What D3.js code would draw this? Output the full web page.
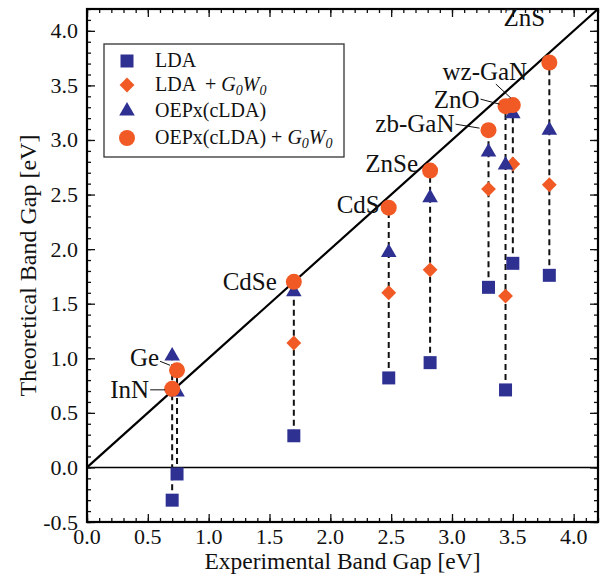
<!DOCTYPE html>
<html>
<head>
<meta charset="utf-8">
<script src="https://cdn.jsdelivr.net/npm/d3@7"></script>
<style>
  body { margin: 0; background: #fff; }
  text { font-family: "Liberation Serif", "Times New Roman", serif; fill: #111; }
</style>
</head>
<body>
<div id="chart"></div>
<script>
// materials and experimental gaps (eV)
const materials = ["InN", "Ge", "CdSe", "CdS", "ZnSe", "zb-GaN", "ZnO", "wz-GaN", "ZnS"];
const expGap    = [0.70, 0.74, 1.70, 2.48, 2.82, 3.30, 3.44, 3.50, 3.80];
// theoretical gaps
const lda       = [-0.30, -0.06, 0.29, 0.82, 0.96, 1.65, 0.71, 1.87, 1.76];
const ldaGW     = [null, null, 1.14, 1.60, 1.81, 2.55, 1.57, 2.78, 2.59];
const oepx      = [1.02, 0.69, 1.61, 1.97, 2.47, 2.89, 2.77, 3.24, 3.09];
const oepxGW    = [0.72, 0.89, 1.70, 2.38, 2.72, 3.09, 3.31, 3.32, 3.71];

const xTicks = [0.0, 0.5, 1.0, 1.5, 2.0, 2.5, 3.0, 3.5, 4.0];
const yTicks = [-0.5, 0.0, 0.5, 1.0, 1.5, 2.0, 2.5, 3.0, 3.5, 4.0];

const blue = "#2e3192", orange = "#f15a24";

const width = 601, height = 576;
const margin = { top: 9, right: 3, bottom: 54, left: 87 };

const svg = d3.select("#chart").append("svg")
    .attr("width", width)
    .attr("height", height);

const x = d3.scaleLinear().domain([0, 4.2]).range([margin.left, width - margin.right]);
const y = d3.scaleLinear().domain([-0.5, 4.2]).range([height - margin.bottom, margin.top]);

const data = materials.map((m, i) => ({
    name: m, x: expGap[i], lda: lda[i], ldaGW: ldaGW[i], oepx: oepx[i], oepxGW: oepxGW[i]
}));

// reference lines
svg.append("line")
    .attr("x1", x(0)).attr("x2", x(4.2))
    .attr("y1", y(0)).attr("y2", y(0))
    .attr("stroke", "#000").attr("stroke-width", 1.5);
svg.append("line")
    .attr("x1", x(0)).attr("y1", y(0))
    .attr("x2", x(4.2)).attr("y2", y(4.2))
    .attr("stroke", "#000").attr("stroke-width", 2.2);

// dashed connectors
const vals = d => [d.lda, d.ldaGW, d.oepx, d.oepxGW].filter(v => v != null);
svg.append("g").selectAll("line")
    .data(data)
    .join("line")
    .attr("x1", d => x(d.x)).attr("x2", d => x(d.x))
    .attr("y1", d => y(d3.min(vals(d))))
    .attr("y2", d => y(d3.max(vals(d))))
    .attr("stroke", "#111").attr("stroke-width", 2)
    .attr("stroke-dasharray", "6,4");

// ticks on all four sides, pointing inward
function tickAxes(axis, scale, major) {
    const minor = d3.range(Math.ceil(scale.domain()[0] * 10), Math.floor(scale.domain()[1] * 10) + 1).map(v => v / 10);
    return [
        axis(scale).tickValues(minor).tickSize(-4).tickFormat(""),
        axis(scale).tickValues(major).tickSize(-8).tickFormat("")
    ];
}

const frame = svg.append("g");
tickAxes(d3.axisBottom, x, xTicks).forEach(a =>
    frame.append("g").attr("transform", `translate(0,${y(-0.5)})`).call(a));
tickAxes(d3.axisTop, x, xTicks).forEach(a =>
    frame.append("g").attr("transform", `translate(0,${y(4.2)})`).call(a));
tickAxes(d3.axisLeft, y, yTicks).forEach(a =>
    frame.append("g").attr("transform", `translate(${x(0)},0)`).call(a));
tickAxes(d3.axisRight, y, yTicks).forEach(a =>
    frame.append("g").attr("transform", `translate(${x(4.2)},0)`).call(a));
frame.selectAll(".domain").remove();
frame.selectAll(".tick line").attr("stroke", "#111").attr("stroke-width", 1.3);

svg.append("rect")
    .attr("x", x(0)).attr("y", y(4.2))
    .attr("width", x(4.2) - x(0)).attr("height", y(-0.5) - y(4.2))
    .attr("fill", "none").attr("stroke", "#000").attr("stroke-width", 2.2);

// tick labels
svg.append("g").selectAll("text")
    .data(xTicks)
    .join("text")
    .attr("x", d => x(d))
    .attr("y", y(-0.5) + 22)
    .attr("text-anchor", "middle")
    .attr("font-size", 22)
    .text(d => d.toFixed(1));
svg.append("g").selectAll("text")
    .data(yTicks)
    .join("text")
    .attr("x", x(0) - 9)
    .attr("y", d => y(d) + 7.5)
    .attr("text-anchor", "end")
    .attr("font-size", 22)
    .text(d => d.toFixed(1));

// axis titles
svg.append("text")
    .attr("x", (x(0) + x(4.2)) / 2)
    .attr("y", 569)
    .attr("text-anchor", "middle")
    .attr("font-size", 23.5)
    .text("Experimental Band Gap [eV]");
svg.append("text")
    .attr("transform", `translate(36,${(y(-0.5) + y(4.2)) / 2}) rotate(-90)`)
    .attr("text-anchor", "middle")
    .attr("font-size", 24)
    .text("Theoretical Band Gap [eV]");

// markers
const sq = d3.symbol().type(d3.symbolSquare).size(169);
const dia = d3.symbol().type(d3.symbolSquare).size(110);
const tri = d3.symbol().type(d3.symbolTriangle).size(105);

const marks = svg.append("g");
marks.selectAll(".lda").data(data).join("path")
    .attr("transform", d => `translate(${x(d.x)},${y(d.lda)})`)
    .attr("d", sq).attr("fill", blue);
marks.selectAll(".ldagw").data(data.filter(d => d.ldaGW != null)).join("path")
    .attr("transform", d => `translate(${x(d.x)},${y(d.ldaGW)}) rotate(45)`)
    .attr("d", dia).attr("fill", orange);
marks.selectAll(".oepx").data(data).join("path")
    .attr("transform", d => `translate(${x(d.x)},${y(d.oepx)})`)
    .attr("d", tri).attr("fill", blue);
marks.selectAll(".oepxgw").data(data).join("circle")
    .attr("cx", d => x(d.x)).attr("cy", d => y(d.oepxGW))
    .attr("r", 8).attr("fill", orange);

// material labels: offset of text from its circle, optional leader line
const labelPos = {
    "InN":    { dx: -23, dy: 9, anchor: "end", leader: [-22, 1, -7, 1] },
    "Ge":     { dx: -18, dy: -4, anchor: "end", leader: [-17, -9, -7, -5] },
    "CdSe":   { dx: -17, dy: 8, anchor: "end" },
    "CdS":    { dx: -9, dy: 5, anchor: "end" },
    "ZnSe":   { dx: -12, dy: 1, anchor: "end" },
    "zb-GaN": { dx: -34, dy: 2, anchor: "end", leader: [-33, -6, -9, -2] },
    "ZnO":    { dx: -26, dy: 2, anchor: "end", leader: [-25, -7, -6, -2] },
    "wz-GaN": { dx: -28, dy: -25, anchor: "middle", leader: [-17, -21, -2, -7] },
    "ZnS":    { dx: -25, dy: -36, anchor: "middle" }
};

const labels = svg.append("g");
data.forEach(d => {
    const p = labelPos[d.name];
    const cx = x(d.x), cy = y(d.oepxGW);
    if (p.leader) {
        labels.append("line")
            .attr("x1", cx + p.leader[0]).attr("y1", cy + p.leader[1])
            .attr("x2", cx + p.leader[2]).attr("y2", cy + p.leader[3])
            .attr("stroke", "#111").attr("stroke-width", 1);
    }
    labels.append("text")
        .attr("x", cx + p.dx)
        .attr("y", cy + p.dy)
        .attr("text-anchor", p.anchor)
        .attr("font-size", 25)
        .text(d.name);
});

// legend
const legend = svg.append("g").attr("transform", "translate(104,44)");
legend.append("rect")
    .attr("width", 240).attr("height", 113)
    .attr("fill", "#fff").attr("stroke", "#333").attr("stroke-width", 1.3);

const legendItems = [
    { sym: sq, color: blue, label: "LDA", gw: false, rot: 0 },
    { sym: dia, color: orange, label: "LDA  + ", gw: true, rot: 45 },
    { sym: tri, color: blue, label: "OEPx(cLDA)", gw: false, rot: 0 },
    { sym: null, color: orange, label: "OEPx(cLDA) + ", gw: true, rot: 0 }
];
const rowY = [17, 41, 67, 94];
legendItems.forEach((it, i) => {
    const g = legend.append("g").attr("transform", `translate(23,${rowY[i]})`);
    if (it.sym) g.append("path").attr("d", it.sym).attr("fill", it.color).attr("transform", `rotate(${it.rot})`);
    else g.append("circle").attr("r", 8).attr("fill", it.color);
    const t = g.append("text").attr("x", 28).attr("y", 6).attr("font-size", 20)
        .style("white-space", "pre");
    t.append("tspan").text(it.label);
    if (it.gw) {
        t.append("tspan").attr("font-style", "italic").text("G");
        t.append("tspan").attr("font-style", "italic").attr("font-size", 14).attr("dy", 4).text("0");
        t.append("tspan").attr("font-style", "italic").attr("dy", -4).text("W");
        t.append("tspan").attr("font-style", "italic").attr("font-size", 14).attr("dy", 4).text("0");
    }
});
</script>
</body>
</html>
